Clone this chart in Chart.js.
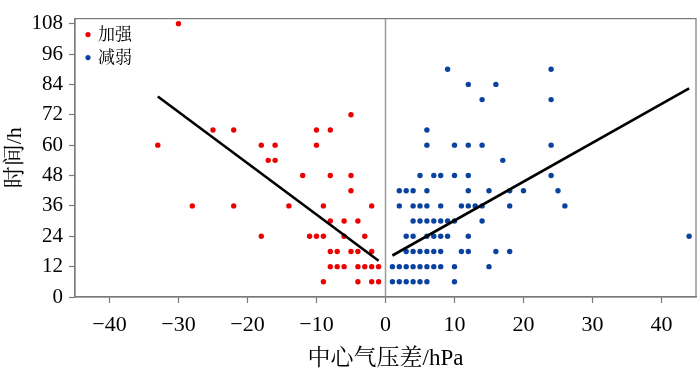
<!DOCTYPE html>
<html>
<head>
<meta charset="utf-8">
<script src="https://cdn.jsdelivr.net/npm/chart.js@4"></script>
<style>
  html, body { margin: 0; padding: 0; background: #fff; }
  #box { width: 700px; height: 373px; }
</style>
</head>
<body>
<div id="box"><canvas id="scatterChart" width="700" height="373"></canvas></div>
<script>
// 加强 (red) points
const strongX = [-30, -33, -25, -22, -18, -16, -17, -16, -10, -8, -10, -5,
    -12, -8, -5, -5,
    -28, -22, -14, -9, -2,
    -8, -6, -4,
    -18, -11, -10, -9, -6, -3,
    -8, -7, -5, -4, -2,
    -8, -7, -6, -4, -3, -2, -1,
    -9, -4, -2, -1];
const strongY = [108, 60, 66, 66, 60, 60, 54, 54, 66, 66, 60, 72,
    48, 48, 48, 42,
    36, 36, 36, 36, 36,
    30, 30, 30,
    24, 24, 24, 24, 24, 24,
    18, 18, 18, 18, 18,
    12, 12, 12, 12, 12, 12, 12,
    6, 6, 6, 6];

// 减弱 (blue) points
const weakX = [9, 24, 12, 16, 14, 24, 6, 6, 10, 12, 14, 24, 17,
    5, 7, 8, 10, 12, 24,
    2, 3, 4, 6, 12, 15, 18, 20, 25,
    2, 4, 5, 6, 8, 11, 12, 13, 14, 18, 26,
    4, 5, 6, 7, 8, 9, 10, 14,
    3, 4, 6, 7, 8, 9, 12, 44,
    3, 4, 5, 6, 7, 8, 11, 12, 16, 18,
    1, 2, 3, 4, 5, 6, 7, 8, 10, 15,
    1, 2, 3, 4, 5, 6, 10];
const weakY = [90, 90, 84, 84, 78, 78, 66, 60, 60, 60, 60, 60, 54,
    48, 48, 48, 48, 48, 48,
    42, 42, 42, 42, 42, 42, 42, 42, 42,
    36, 36, 36, 36, 36, 36, 36, 36, 36, 36, 36,
    30, 30, 30, 30, 30, 30, 30, 30,
    24, 24, 24, 24, 24, 24, 24, 24,
    18, 18, 18, 18, 18, 18, 18, 18, 18, 18,
    12, 12, 12, 12, 12, 12, 12, 12, 12, 12,
    6, 6, 6, 6, 6, 6, 6];

// fitted lines
const strongFitX = [-33, -1];
const strongFitY = [79.2, 14.3];
const weakFitX = [1, 44];
const weakFitY = [16.4, 82.4];

const xTicks = [-40, -30, -20, -10, 0, 10, 20, 30, 40];
const yTicks = [0, 12, 24, 36, 48, 60, 72, 84, 96, 108];

const seriesNames = ['加强', '减弱'];
const xTitle = '中心气压差/hPa';
const yTitle = '时间/h';

const FONT = '"Liberation Serif", "Times New Roman", "Noto Serif CJK SC", "Noto Sans CJK SC", serif';
const AXIS_GRAY = '#7a7a7a';

function toPoints(xs, ys) {
    return xs.map((x, i) => ({ x: x, y: ys[i] }));
}

// frame around plot + vertical zero line + legend inside the plot
const framePlugin = {
    id: 'framePlugin',
    beforeDatasetsDraw(chart) {
        const { ctx, chartArea: a, scales } = chart;
        const x0 = scales.x.getPixelForValue(0);
        ctx.save();
        ctx.strokeStyle = '#9a9a9a';
        ctx.lineWidth = 1.5;
        ctx.beginPath();
        ctx.moveTo(x0, a.top);
        ctx.lineTo(x0, a.bottom);
        ctx.stroke();
        ctx.restore();
    },
    afterDraw(chart) {
        const { ctx, chartArea: a } = chart;
        ctx.save();
        ctx.strokeStyle = AXIS_GRAY;
        ctx.lineWidth = 1.2;
        ctx.strokeRect(a.left, a.top, a.right - a.left, a.bottom - a.top);
        // legend
        const items = chart.data.datasets.filter(d => d.inLegend);
        ctx.font = '17px ' + FONT;
        ctx.textBaseline = 'middle';
        ctx.textAlign = 'left';
        items.forEach((d, i) => {
            const y = a.top + 16 + i * 23;
            ctx.fillStyle = d.backgroundColor;
            ctx.beginPath();
            ctx.arc(a.left + 13, y, 2.6, 0, Math.PI * 2);
            ctx.fill();
            ctx.fillStyle = '#000';
            ctx.fillText(d.label, a.left + 23, y + 1);
        });
        ctx.restore();
    }
};

document.addEventListener('DOMContentLoaded', function () {
    const ctx = document.getElementById('scatterChart').getContext('2d');
    new Chart(ctx, {
        type: 'scatter',
        data: {
            datasets: [{
                label: 'fit1',
                type: 'line',
                data: toPoints(strongFitX, strongFitY),
                borderColor: '#000',
                borderWidth: 2.6,
                pointRadius: 0,
                fill: false
            }, {
                label: 'fit2',
                type: 'line',
                data: toPoints(weakFitX, weakFitY),
                borderColor: '#000',
                borderWidth: 2.6,
                pointRadius: 0,
                fill: false
            }, {
                label: seriesNames[0],
                inLegend: true,
                data: toPoints(strongX, strongY),
                backgroundColor: 'rgb(236,0,0)',
                borderWidth: 0,
                pointRadius: 2.7
            }, {
                label: seriesNames[1],
                inLegend: true,
                data: toPoints(weakX, weakY),
                backgroundColor: 'rgb(10,66,160)',
                borderWidth: 0,
                pointRadius: 2.7
            }]
        },
        options: {
            responsive: false,
            animation: false,
            layout: { padding: { top: 4, right: 3, left: 0, bottom: 0 } },
            scales: {
                x: {
                    type: 'linear',
                    min: -45,
                    max: 45,
                    afterBuildTicks: s => { s.ticks = xTicks.map(v => ({ value: v })); },
                    afterFit: s => { s.height = 76; },
                    grid: {
                        drawOnChartArea: false,
                        color: AXIS_GRAY,
                        tickLength: 6,
                        tickWidth: 1.2
                    },
                    border: { color: AXIS_GRAY, width: 1.2 },
                    ticks: {
                        color: '#000',
                        padding: 9,
                        maxRotation: 0,
                        font: { family: FONT, size: 22 },
                        callback: v => String(v).replace('-', '\u2212')
                    },
                    title: {
                        display: true,
                        text: xTitle,
                        color: '#000',
                        font: { family: FONT, size: 23 },
                        padding: { top: 0, bottom: 0 }
                    }
                },
                y: {
                    type: 'linear',
                    min: 0,
                    max: 110,
                    afterBuildTicks: s => { s.ticks = yTicks.map(v => ({ value: v })); },
                    afterFit: s => { s.width = 75; },
                    grid: {
                        drawOnChartArea: false,
                        color: AXIS_GRAY,
                        tickLength: 6,
                        tickWidth: 1.2
                    },
                    border: { color: AXIS_GRAY, width: 1.2 },
                    ticks: {
                        color: '#000',
                        padding: 6,
                        font: { family: FONT, size: 21 }
                    },
                    title: {
                        display: true,
                        text: yTitle,
                        color: '#000',
                        font: { family: FONT, size: 22 },
                        padding: { top: 2, bottom: 0 }
                    }
                }
            },
            plugins: {
                legend: { display: false },
                tooltip: { enabled: false }
            }
        },
        plugins: [framePlugin]
    });
});
</script>
</body>
</html>
